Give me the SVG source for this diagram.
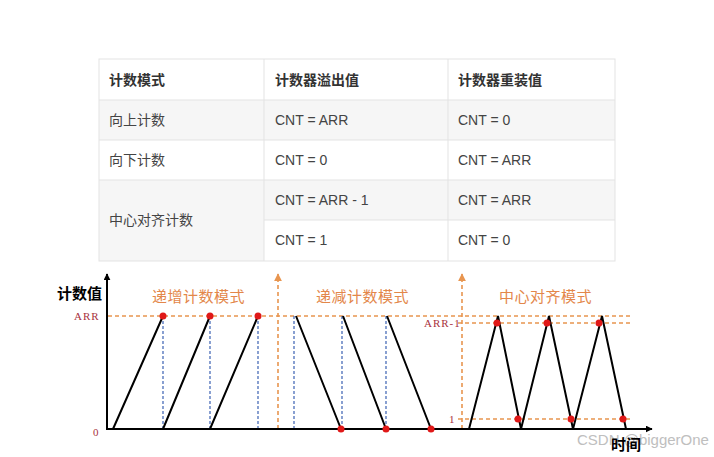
<svg xmlns="http://www.w3.org/2000/svg" width="714" height="457" viewBox="0 0 714 457">
<defs>
<style>
.cell{font-family:"Liberation Sans","Noto Sans CJK SC",sans-serif;font-size:14px;fill:#444}
.hd{font-weight:bold;fill:#333}
.grid{stroke:#e3e3e3;stroke-width:1;fill:none}
.ax{stroke:#000;stroke-width:2;fill:none}
.od{stroke:#e8954f;stroke-width:1.6;stroke-dasharray:4 3;fill:none}
.bd{stroke:#4a6db8;stroke-width:1.3;stroke-dasharray:3 2;fill:none}
.wave{stroke:#000;stroke-width:2;fill:none;stroke-linejoin:miter}
.ttl{font-family:"Noto Sans CJK SC",sans-serif;font-size:15px;fill:#e3874a;letter-spacing:0.5px}
.lbl{font-family:"Liberation Serif",serif;font-size:11px;fill:#a8323e;letter-spacing:1px}
.dot{fill:#e01818}
</style>
<marker id="blk" viewBox="0 0 10 10" refX="9" refY="5" markerWidth="7" markerHeight="7" orient="auto" markerUnits="userSpaceOnUse"><path d="M0,0 L10,5 L0,10 z" fill="#000"/></marker>
<marker id="org" viewBox="0 0 10 10" refX="9" refY="5" markerWidth="8" markerHeight="8" orient="auto" markerUnits="userSpaceOnUse"><path d="M0,0 L10,5 L0,10 z" fill="#e8954f"/></marker>
</defs>
<rect width="714" height="457" fill="#fff"/>

<g id="table">
<rect x="99" y="100" width="516" height="40" fill="#f6f6f6"/>
<rect x="99" y="180" width="165" height="81" fill="#f6f6f6"/>
<rect x="264" y="180" width="351" height="40" fill="#f6f6f6"/>
<rect x="99" y="59" width="516" height="202" class="grid"/>
<path class="grid" d="M99,100H615M99,140H615M99,180H615M264,220H615M264,59V261M448,59V261"/>
<text class="cell hd" x="109" y="85">计数模式</text>
<text class="cell hd" x="275" y="85">计数器溢出值</text>
<text class="cell hd" x="458" y="85">计数器重装值</text>
<text class="cell" x="109" y="125">向上计数</text>
<text class="cell" x="275" y="125">CNT = ARR</text>
<text class="cell" x="458" y="125">CNT = 0</text>
<text class="cell" x="109" y="165">向下计数</text>
<text class="cell" x="275" y="165">CNT = 0</text>
<text class="cell" x="458" y="165">CNT = ARR</text>
<text class="cell" x="109" y="225">中心对齐计数</text>
<text class="cell" x="275" y="205">CNT = ARR - 1</text>
<text class="cell" x="458" y="205">CNT = ARR</text>
<text class="cell" x="275" y="245">CNT = 1</text>
<text class="cell" x="458" y="245">CNT = 0</text>
</g>

<g id="guides">
<path class="od" d="M108,316H630"/>
<path class="od" d="M458,323H630"/>
<path class="od" d="M458,419H630"/>
<path class="od" d="M278,429V274" marker-end="url(#org)"/>
<path class="od" d="M462,429V274" marker-end="url(#org)"/>
<path class="bd" d="M163,316V429M210,316V429M258,316V429M294,316V429M342,316V429M386,316V429"/>
</g>

<g id="axes">
<path class="ax" d="M107,430V274" marker-end="url(#blk)"/>
<path class="ax" d="M106,429H652" marker-end="url(#blk)"/>
<text x="57" y="299" font-family="Noto Sans CJK SC,sans-serif" font-size="15" font-weight="bold" fill="#000">计数值</text>
<text class="lbl" x="74" y="320">ARR</text>
<text class="lbl" x="93" y="436">0</text>
<text class="lbl" x="424" y="327">ARR-1</text>
<text class="lbl" x="449" y="423">1</text>
</g>

<g id="up-mode">
<text class="ttl" x="152" y="302">递增计数模式</text>
<path class="wave" d="M113,429L163,316M163,429L210,316M210,429L258,316"/>
<circle class="dot" cx="163" cy="316" r="3.5"/>
<circle class="dot" cx="210" cy="316" r="3.5"/>
<circle class="dot" cx="258" cy="316" r="3.5"/>
</g>

<g id="down-mode">
<text class="ttl" x="316" y="302">递减计数模式</text>
<path class="wave" d="M296,316L341,429M343,316L386,429M387,316L431,429"/>
<circle class="dot" cx="341" cy="429" r="3.5"/>
<circle class="dot" cx="386" cy="429" r="3.5"/>
<circle class="dot" cx="431" cy="429" r="3.5"/>
</g>

<g id="center-mode">
<text class="ttl" x="499" y="302">中心对齐模式</text>
<path class="wave" d="M469,429L498,316L521,429L549,316L573,429L602,316L626,429"/>
<circle class="dot" cx="497" cy="323" r="3.5"/>
<circle class="dot" cx="547" cy="323" r="3.5"/>
<circle class="dot" cx="599" cy="323" r="3.5"/>
<circle class="dot" cx="518" cy="419" r="3.5"/>
<circle class="dot" cx="571" cy="419" r="3.5"/>
<circle class="dot" cx="623" cy="419" r="3.5"/>
</g>

<text x="577" y="445" font-family="Liberation Sans,sans-serif" font-size="15" fill="#b4b4b4" opacity="0.85">CSDN @biggerOne</text>
<text x="611" y="450" font-family="Noto Sans CJK SC,sans-serif" font-size="15" font-weight="bold" fill="#000">时间</text>
</svg>
